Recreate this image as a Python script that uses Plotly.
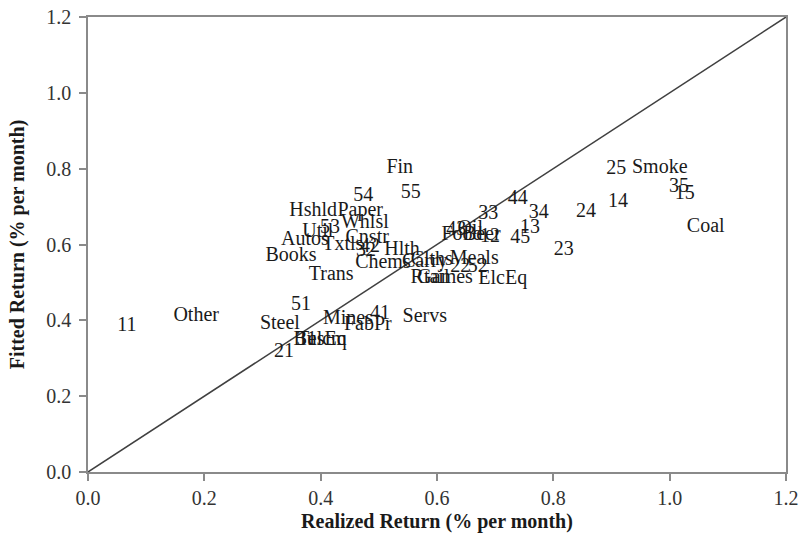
import plotly.graph_objects as go

# 25 size/BM portfolios
port_labels = ["11", "12", "13", "14", "15", "21", "22", "23", "24", "25",
               "31", "32", "33", "34", "35", "41", "42", "43", "44", "45",
               "51", "52", "53", "54", "55"]
port_realized = [0.067, 0.691, 0.760, 0.911, 1.026, 0.337, 0.640, 0.818, 0.856, 0.908,
                 0.376, 0.478, 0.688, 0.775, 1.016, 0.502, 0.485, 0.633, 0.739, 0.743,
                 0.366, 0.670, 0.416, 0.473, 0.555]
port_fitted = [0.385, 0.620, 0.643, 0.712, 0.733, 0.316, 0.541, 0.585, 0.686, 0.799,
               0.348, 0.583, 0.680, 0.683, 0.752, 0.417, 0.593, 0.638, 0.720, 0.617,
               0.440, 0.541, 0.643, 0.728, 0.736]

# 30 industries
ind_labels = ["Food", "Beer", "Smoke", "Games", "Books", "Hshld", "Clths", "Hlth",
              "Chems", "Txtls", "Cnstr", "Steel", "FabPr", "ElcEq", "Autos", "Carry",
              "Mines", "Coal", "Oil", "Util", "Telcm", "Servs", "BusEq", "Paper",
              "Trans", "Whlsl", "Rtail", "Meals", "Fin", "Other"]
ind_realized = [0.643, 0.677, 0.983, 0.614, 0.349, 0.387, 0.591, 0.540,
                0.507, 0.438, 0.480, 0.330, 0.481, 0.713, 0.373, 0.579,
                0.447, 1.062, 0.657, 0.395, 0.402, 0.579, 0.399, 0.468,
                0.418, 0.476, 0.588, 0.664, 0.536, 0.186]
ind_fitted = [0.625, 0.625, 0.802, 0.512, 0.570, 0.688, 0.559, 0.585,
              0.551, 0.599, 0.617, 0.390, 0.388, 0.509, 0.612, 0.554,
              0.403, 0.646, 0.641, 0.633, 0.348, 0.409, 0.348, 0.688,
              0.520, 0.657, 0.512, 0.562, 0.802, 0.411]

# 45-degree reference line
diag_x = [0.0, 1.2]
diag_y = [0.0, 1.2]

ticks = [0.0, 0.2, 0.4, 0.6, 0.8, 1.0, 1.2]
tick_text = ["0.0", "0.2", "0.4", "0.6", "0.8", "1.0", "1.2"]

FONT = "Liberation Serif"
LABEL_SIZE = 20

fig = go.Figure()
fig.add_trace(go.Scatter(x=diag_x, y=diag_y, mode="lines",
                         line=dict(color="#404040", width=1.5),
                         hoverinfo="skip", showlegend=False))
fig.add_trace(go.Scatter(x=port_realized, y=port_fitted, mode="text",
                         text=port_labels, textposition="middle center",
                         textfont=dict(family=FONT, size=LABEL_SIZE, color="#1a1a1a"),
                         showlegend=False))
fig.add_trace(go.Scatter(x=ind_realized, y=ind_fitted, mode="text",
                         text=ind_labels, textposition="middle center",
                         textfont=dict(family=FONT, size=LABEL_SIZE, color="#1a1a1a"),
                         showlegend=False))

axis_common = dict(range=[0, 1.2], tickvals=ticks, ticktext=tick_text,
                   showgrid=False, zeroline=False, showline=True, automargin=False,
                   ticklabeloverflow="allow",
                   linecolor="#8a8a8a", linewidth=1.5, mirror=True,
                   ticks="outside", ticklen=7, tickcolor="#8a8a8a", tickwidth=1.5,
                   tickfont=dict(family=FONT, size=20, color="#333333"))

fig.update_layout(
    width=800, height=533,
    margin=dict(l=88, r=14, t=17, b=61),
    paper_bgcolor="white", plot_bgcolor="white",
    xaxis=dict(**axis_common, ticklabelstandoff=0,
               title=dict(text="<b>Realized Return (% per month)</b>",
                          font=dict(family=FONT, size=20, color="#1a1a1a"),
                          standoff=7)),
    yaxis=dict(**axis_common, ticklabelstandoff=4,
               title=dict(text="<b>Fitted Return (% per month)</b>",
                          font=dict(family=FONT, size=20, color="#1a1a1a"),
                          standoff=16)),
)

# remove the browser's default page margin so the 800x533 figure fills the window
fig.write_html("out.html",
               config={"displayModeBar": False},
               post_script="document.body.style.margin='0';document.body.style.overflow='hidden';")
